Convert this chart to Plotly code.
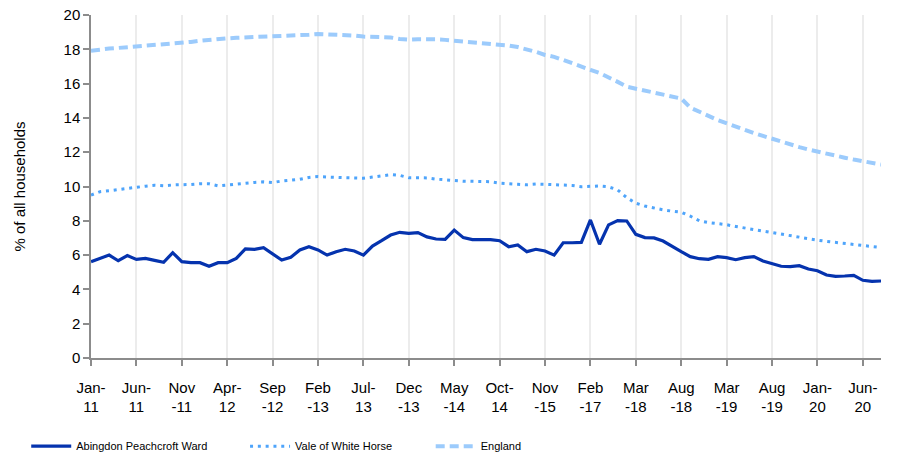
import plotly.graph_objects as go

categories = [
    "Jan-11", "Feb-11", "Mar-11", "Apr-11", "May-11", "Jun-11", "Jul-11", "Aug-11", "Sep-11", "Oct-11",
    "Nov-11", "Dec-11", "Jan-12", "Feb-12", "Mar-12", "Apr-12", "May-12", "Jun-12", "Jul-12", "Aug-12",
    "Sep-12", "Oct-12", "Nov-12", "Dec-12", "Jan-13", "Feb-13", "Mar-13", "Apr-13", "May-13", "Jun-13",
    "Jul-13", "Aug-13", "Sep-13", "Oct-13", "Nov-13", "Dec-13", "Jan-14", "Feb-14", "Mar-14", "Apr-14",
    "May-14", "Jun-14", "Jul-14", "Aug-14", "Sep-14", "Oct-14", "Dec-14", "Mar-15", "Jun-15", "Sep-15",
    "Nov-15", "Feb-16", "May-16", "Aug-16", "Nov-16", "Feb-17", "May-17", "Aug-17", "Nov-17", "Feb-18",
    "Mar-18", "Apr-18", "May-18", "Jun-18", "Jul-18", "Aug-18", "Oct-18", "Nov-18", "Dec-18", "Feb-19",
    "Mar-19", "Apr-19", "May-19", "Jun-19", "Jul-19", "Aug-19", "Sep-19", "Oct-19", "Nov-19", "Dec-19",
    "Jan-20", "Feb-20", "Mar-20", "Apr-20", "May-20", "Jun-20", "Jul-20", "Aug-20",
]

ward = [
    5.62, 5.81, 6.00, 5.67, 5.97, 5.75, 5.81, 5.69, 5.58, 6.14,
    5.62, 5.56, 5.56, 5.35, 5.56, 5.56, 5.81, 6.36, 6.34, 6.43,
    6.05, 5.71, 5.87, 6.30, 6.49, 6.30, 6.00, 6.20, 6.34, 6.24,
    6.00, 6.53, 6.84, 7.17, 7.33, 7.27, 7.31, 7.06, 6.94, 6.92,
    7.46, 7.02, 6.90, 6.92, 6.90, 6.84, 6.49, 6.59, 6.20, 6.34,
    6.24, 6.00, 6.72, 6.72, 6.74, 8.05, 6.63, 7.76, 8.01, 7.99,
    7.21, 7.02, 7.00, 6.82, 6.49, 6.20, 5.91, 5.79, 5.75, 5.91,
    5.85, 5.73, 5.85, 5.91, 5.66, 5.50, 5.35, 5.33, 5.38, 5.19,
    5.09, 4.84, 4.76, 4.78, 4.82, 4.53, 4.47, 4.49,
]

vale = [
    9.50, 9.70, 9.75, 9.82, 9.91, 9.98, 10.02, 10.07, 10.04, 10.09,
    10.09, 10.12, 10.16, 10.16, 10.04, 10.09, 10.16, 10.23, 10.24, 10.27,
    10.23, 10.32, 10.37, 10.42, 10.53, 10.58, 10.55, 10.51, 10.51, 10.50,
    10.48, 10.55, 10.62, 10.69, 10.65, 10.51, 10.51, 10.50, 10.43, 10.37,
    10.35, 10.31, 10.30, 10.30, 10.28, 10.20, 10.15, 10.13, 10.10, 10.14,
    10.13, 10.10, 10.10, 10.06, 9.99, 10.01, 10.03, 9.98, 9.80, 9.35,
    9.03, 8.86, 8.74, 8.64, 8.56, 8.50, 8.27, 8.00, 7.90, 7.84,
    7.77, 7.67, 7.58, 7.49, 7.41, 7.32, 7.23, 7.12, 7.03, 6.93,
    6.87, 6.80, 6.74, 6.67, 6.63, 6.58, 6.51, 6.44,
]

england = [
    17.92, 18.00, 18.04, 18.08, 18.12, 18.15, 18.18, 18.22, 18.27, 18.31,
    18.36, 18.43, 18.50, 18.56, 18.61, 18.64, 18.67, 18.69, 18.72, 18.74,
    18.75, 18.76, 18.77, 18.79, 18.85, 18.89, 18.88, 18.86, 18.85, 18.80,
    18.74, 18.72, 18.71, 18.69, 18.60, 18.56, 18.58, 18.60, 18.58, 18.55,
    18.50, 18.47, 18.43, 18.39, 18.33, 18.29, 18.22, 18.13, 18.02, 17.85,
    17.67, 17.56, 17.38, 17.17, 16.97, 16.80, 16.62, 16.38, 16.10, 15.82,
    15.70, 15.59, 15.48, 15.36, 15.25, 15.13, 14.60, 14.33, 14.12, 13.88,
    13.68, 13.50, 13.30, 13.12, 12.95, 12.78, 12.60, 12.44, 12.30, 12.16,
    12.03, 11.92, 11.80, 11.68, 11.57, 11.46, 11.37, 11.28,
]

tick_categories = ["Jan-11", "Jun-11", "Nov-11", "Apr-12", "Sep-12", "Feb-13", "Jul-13", "Dec-13", "May-14",
                   "Oct-14", "Nov-15", "Feb-17", "Mar-18", "Aug-18", "Mar-19", "Aug-19", "Jan-20", "Jun-20"]
tick_labels = ["Jan-<br>11", "Jun-<br>11", "Nov<br>-11", "Apr-<br>12", "Sep<br>-12", "Feb<br>-13", "Jul-<br>13",
               "Dec<br>-13", "May<br>-14", "Oct-<br>14", "Nov<br>-15", "Feb<br>-17", "Mar<br>-18", "Aug<br>-18",
               "Mar<br>-19", "Aug<br>-19", "Jan-<br>20", "Jun-<br>20"]

series_names = ["Abingdon Peachcroft Ward", "Vale of White Horse", "England"]

FONT = "Liberation Sans, Arial, sans-serif"
AXIS = "#8c8c8c"

fig = go.Figure()
fig.add_trace(go.Scatter(x=categories, y=england, mode="lines", name=series_names[2],
                         line=dict(color="#9ccbfc", width=4, dash="9px,5px"), legend="legend3"))
fig.add_trace(go.Scatter(x=categories, y=vale, mode="lines", name=series_names[1],
                         line=dict(color="#4ea4fb", width=3, dash="3px,4.8px"), legend="legend2"))
fig.add_trace(go.Scatter(x=categories, y=ward, mode="lines", name=series_names[0],
                         line=dict(color="#0533ae", width=3.2), legend="legend"))

leg_common = dict(orientation="h", yanchor="middle", xanchor="left", y=-0.257,
                  font=dict(family=FONT, size=11, color="#000000"),
                  bgcolor="rgba(0,0,0,0)", itemwidth=40)

fig.update_layout(
    width=897, height=458,
    margin=dict(l=91, r=16, t=15, b=100, autoexpand=False),
    paper_bgcolor="white", plot_bgcolor="white",
    font=dict(family=FONT, size=15, color="#000000"),
    showlegend=True,
    legend=dict(x=-0.082, **leg_common),
    legend2=dict(x=0.195, **leg_common),
    legend3=dict(x=0.43, **leg_common),
    xaxis=dict(
        type="category", categoryorder="array", categoryarray=categories,
        range=[0, len(categories) - 1], automargin=False,
        tickmode="array", tickvals=tick_categories, ticktext=tick_labels,
        showgrid=True, gridcolor="#ececec", gridwidth=1.5,
        showline=True, linecolor=AXIS, linewidth=1.5,
        ticks="outside", ticklen=6, tickcolor=AXIS, tickwidth=1.5,
        tickfont=dict(family=FONT, size=15, color="#000000"),
        ticklabelstandoff=9,
        zeroline=False,
    ),
    yaxis=dict(
        range=[0, 20], dtick=2, tick0=0, automargin=False,
        showgrid=False, zeroline=False,
        showline=True, linecolor=AXIS, linewidth=1.5,
        ticks="outside", ticklen=6, tickcolor=AXIS, tickwidth=1.5,
        tickfont=dict(family=FONT, size=15, color="#000000"),
        title=dict(text="% of all households", font=dict(family=FONT, size=15, color="#000000"), standoff=34),
    ),
)

fig.write_html("out.html", config={"displayModeBar": False},
               post_script="document.body.style.margin='0';")
